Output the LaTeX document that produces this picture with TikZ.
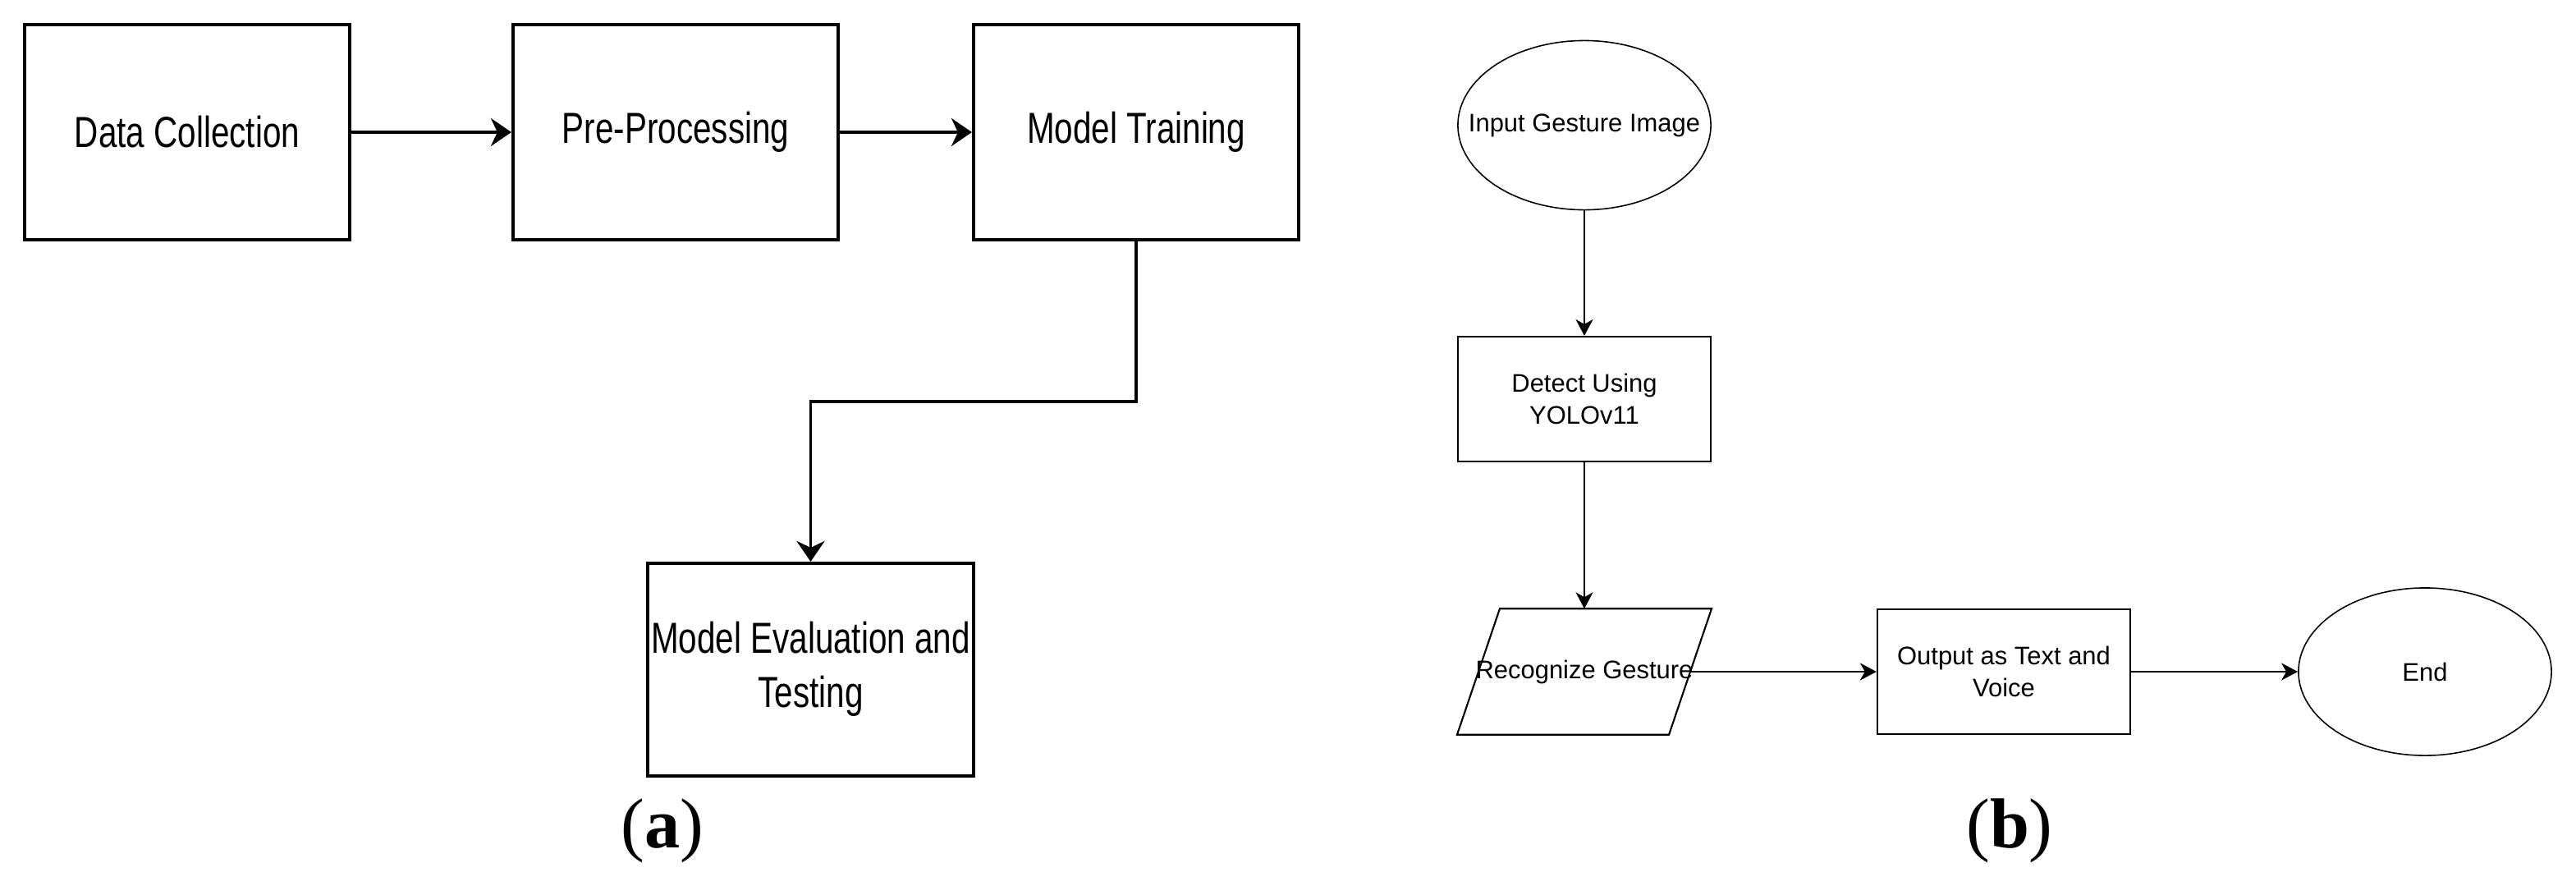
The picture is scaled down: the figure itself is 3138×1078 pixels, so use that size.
\documentclass[tikz,border=0pt]{standalone}
\usepackage{fontspec}
\usepackage{graphicx}
\usetikzlibrary{shapes.geometric,arrows.meta,calc}
\newfontfamily\arialfont{Liberation Sans}
\newfontfamily\capfont{Liberation Serif}
\newcommand{\tallbox}[1]{\scalebox{1}[1.31]{#1}}

\begin{document}
\begin{tikzpicture}[x=0.01cm, y=-0.01cm,
    boxA/.style={draw, line width=1.1pt, minimum width=3.96cm, minimum height=2.62cm, inner sep=0pt, font=\arialfont\fontsize{11.5}{14.3}\selectfont},
    arrA/.style={line width=1.1pt, -{Stealth[length=0.25cm, width=0.34cm, inset=0.08cm]}},
    boxB/.style={draw, line width=0.6pt, minimum width=3.08cm, minimum height=1.52cm, inner sep=0pt, align=center, font=\arialfont\fontsize{8.8}{11.2}\selectfont},
    ovalB/.style={draw, ellipse, line width=0.45pt, minimum width=3.08cm, minimum height=2.05cm, inner sep=0pt, font=\arialfont\fontsize{8.8}{11.2}\selectfont},
    slantB/.style={minimum width=2.565cm, minimum height=1.52cm, inner sep=0pt, font=\arialfont\fontsize{8.8}{11.2}\selectfont},
    arrB/.style={line width=0.6pt, -{Stealth[length=0.2cm, width=0.21cm, inset=0.06cm]}},
    caption/.style={font=\capfont\fontsize{24.5}{28}\selectfont}
]
    \useasboundingbox (0,0) rectangle (3138,1078);

    % Panel a
    \begin{scope}
        \node[boxA] (dc) at (228,161) {\tallbox{Data Collection}};
        \node[boxA] (pp) at (823,161) {\tallbox{Pre-Processing}};
        \node[boxA] (mt) at (1384,161) {\tallbox{Model Training}};
        \node[boxA, minimum height=2.59cm] (me) at (987.5,815.5) {\tallbox{\begin{tabular}{@{}c@{}}Model Evaluation and\\Testing\end{tabular}}};

        \draw[arrA] (dc) -- (pp);
        \draw[arrA] (pp) -- (mt);
        \draw[arrA] (mt.south) |- ($(mt.south)!.5!(me.north)$) -| (me.north);

        \node[caption] (capa) at (807,1012) {(\textbf{a})};
    \end{scope}

    % Panel b
    \begin{scope}
        \node[ovalB, minimum height=2.06cm] (inp) at (1930,152.5) {\makebox[0pt]{Input Gesture Image}};
        \node[boxB] (det) at (1930,486) {Detect Using\\YOLOv11};
        \node[slantB] (rec) at (1930,818) {\makebox[0pt]{Recognize Gesture}};
        \draw[line width=0.6pt] ($(rec.south west)+(-26,0)$) -- ($(rec.south east)+(-26,0)$)
            -- ($(rec.north east)+(26,0)$) -- ($(rec.north west)+(26,0)$) -- cycle;
        \node[boxB] (outp) at (2441,818) {Output as Text and\\Voice};
        \node[ovalB, minimum height=2.04cm] (fin) at (2954,818) {End};

        \draw[arrB] (inp) -- (det);
        \draw[arrB] (det) -- (rec.north);
        \draw[arrB] (rec.east) -- (outp);
        \draw[arrB] (outp) -- (fin);

        \node[caption] (capb) at (2448,1012) {(\textbf{b})};
    \end{scope}
\end{tikzpicture}
\end{document}
